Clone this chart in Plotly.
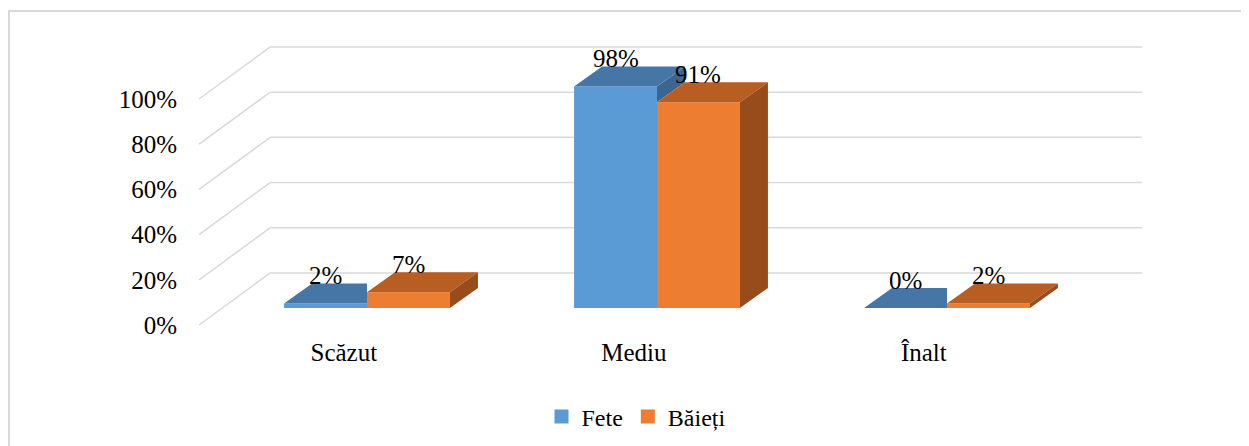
import plotly.graph_objects as go

# ---- data ----
categories = ["Scăzut", "Mediu", "Înalt"]
fete = [2, 98, 0]
baieti = [7, 91, 2]
series_names = ["Fete", "Băieți"]
y_ticks = [0, 20, 40, 60, 80, 100]
y_tick_labels = ["0%", "20%", "40%", "60%", "80%", "100%"]

# ---- styling / pseudo-3D geometry ----
FONT = "Times New Roman, Liberation Serif, DejaVu Serif, serif"
BLUE_FRONT, BLUE_TOP, BLUE_SIDE = "#5B9BD5", "#4676A6", "#3C6690"
ORANGE_FRONT, ORANGE_TOP, ORANGE_SIDE = "#ED7D31", "#B85E23", "#984C1B"
GRID = "#d9d9d9"

W = 0.286            # bar width (category spacing = 1)
DDU, DDV = 0.0966, 8.85      # bar depth shift (x units, y units)
FRONT_DU, FRONT_DV = -0.080, -7.52   # front edge of floor vs. bar front plane
BACK_DV = 15.5                       # back wall vs. bar front plane
FL_U, BL_U, BR_U = -0.579, -0.334, 2.672  # wall extents

# pixel layout (figure coords; page body adds an 8px offset)
OFF = 8
PL, PR, PT, PB = 190 - OFF, 1180 - OFF, 20 - OFF, 335 - OFF
X0PX, XSCALE = 367 - OFF, 290.0
Y0PX, YSCALE = 308 - OFF, 2.26
x_range = [(PL - X0PX) / XSCALE, (PR - X0PX) / XSCALE]
y_range = [(Y0PX - PB) / YSCALE, (Y0PX - PT) / YSCALE]

pos = list(range(len(categories)))

fig = go.Figure()
fig.add_trace(go.Bar(x=pos, y=fete, width=W, offset=-W, name=series_names[0],
                     marker=dict(color=BLUE_FRONT, line=dict(width=0)),
                     hoverinfo="skip", showlegend=False))
fig.add_trace(go.Bar(x=pos, y=baieti, width=W, offset=0, name=series_names[1],
                     marker=dict(color=ORANGE_FRONT, line=dict(width=0)),
                     hoverinfo="skip", showlegend=False))


def poly_trace(xs, ys, color):
    return go.Scatter(x=xs, y=ys, mode="lines", fill="toself", fillcolor=color,
                      line=dict(width=0, color=color), showlegend=False, hoverinfo="skip")


bt_x, bt_y, bs_x, bs_y = [], [], [], []
ot_x, ot_y, os_x, os_y = [], [], [], []
for p, vb, vo in zip(pos, fete, baieti):
    x0, x1, x2 = p - W, p, p + W
    if vb >= vo:
        bt_x += [x0, x1, x1 + DDU, x0 + DDU, x0, None]
        bt_y += [vb, vb, vb + DDV, vb + DDV, vb, None]
        bs_x += [x1, x1, x1 + DDU, x1 + DDU, x1, None]
        bs_y += [vo, vb, vb + DDV, vo + DDV, vo, None]
    else:
        bt_x += [x0, x1, x1, x0 + DDU, x0, None]
        bt_y += [vb, vb, vb + DDV, vb + DDV, vb, None]
    ot_x += [x1, x2, x2 + DDU, x1 + DDU, x1, None]
    ot_y += [vo, vo, vo + DDV, vo + DDV, vo, None]
    os_x += [x2, x2, x2 + DDU, x2 + DDU, x2, None]
    os_y += [0, vo, vo + DDV, DDV, 0, None]

fig.add_trace(poly_trace(bs_x, bs_y, BLUE_SIDE))
fig.add_trace(poly_trace(bt_x, bt_y, BLUE_TOP))
fig.add_trace(poly_trace(ot_x, ot_y, ORANGE_TOP))
fig.add_trace(poly_trace(os_x, os_y, ORANGE_SIDE))

# legend entries (square swatches)
for name, color in zip(series_names, [BLUE_FRONT, ORANGE_FRONT]):
    fig.add_trace(go.Scatter(x=[None], y=[None], mode="markers", name=name,
                             marker=dict(symbol="square", size=14, color=color),
                             hoverinfo="skip", showlegend=True))

# gridlines: side wall diagonals + back wall horizontals
shapes = []
for t in y_ticks:
    shapes.append(dict(type="line", xref="x", yref="y", layer="below",
                       x0=FL_U, y0=t + FRONT_DV, x1=BL_U, y1=t + BACK_DV,
                       line=dict(color=GRID, width=1.5)))
    shapes.append(dict(type="line", xref="x", yref="y", layer="below",
                       x0=BL_U, y0=t + BACK_DV, x1=BR_U, y1=t + BACK_DV,
                       line=dict(color=GRID, width=1.5)))
# chart frame (left and top edges visible)
fx0 = (1 - PL) / (PR - PL)
fy1 = (PB - 3) / (PB - PT)
shapes.append(dict(type="rect", xref="paper", yref="paper", layer="below",
                   x0=fx0, x1=1.3, y0=-0.6, y1=fy1,
                   line=dict(color=GRID, width=2), fillcolor="rgba(0,0,0,0)"))

# data labels
annotations = []
for p, vb, vo in zip(pos, fete, baieti):
    for xc, v in ((p - W / 2, vb), (p + W / 2, vo)):
        annotations.append(dict(x=xc, y=v + DDV, xref="x", yref="y", text=f"{v}%",
                                showarrow=False, yshift=8, yanchor="middle",
                                font=dict(family=FONT, size=25, color="#000")))

fig.update_layout(
    width=1249, height=446,
    margin=dict(l=PL, r=1249 - PR, t=PT, b=446 - PB),
    paper_bgcolor="white", plot_bgcolor="white",
    barmode="overlay",
    shapes=shapes, annotations=annotations,
    showlegend=True,
    legend=dict(orientation="h", xref="container", yref="container",
                x=(636 - OFF) / 1249, xanchor="center", y=1 - (417 - OFF) / 446,
                yanchor="middle", itemwidth=30, tracegroupgap=0,
                font=dict(family=FONT, size=24, color="#000"), traceorder="normal"),
    font=dict(family=FONT, color="#000"),
)
fig.update_xaxes(range=x_range, showgrid=False, zeroline=False, showline=False,
                 tickvals=[p + FRONT_DU for p in pos], ticktext=categories,
                 ticks="",
                 tickfont=dict(family=FONT, size=25, color="#000"))
fig.update_yaxes(range=y_range, showgrid=False, zeroline=False, showline=False,
                 tickvals=[t + FRONT_DV for t in y_ticks], ticktext=y_tick_labels,
                 ticks="outside", ticklen=7, tickcolor="rgba(0,0,0,0)",
                 tickfont=dict(family=FONT, size=25, color="#000"))

fig.write_html("out.html")
